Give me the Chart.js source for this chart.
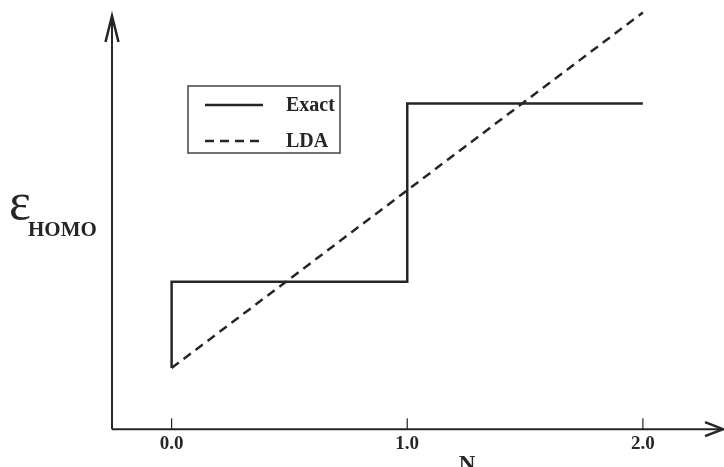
<!DOCTYPE html>
<html>
<head>
<meta charset="utf-8">
<script src="https://cdn.jsdelivr.net/npm/chart.js@4/dist/chart.umd.min.js"></script>
<style>
  html, body { margin: 0; padding: 0; background: #fff; }
  #wrap { width: 724px; height: 467px; position: relative; }
</style>
</head>
<body>
<div id="wrap"><canvas id="c"></canvas></div>
<script>
// values (y in arbitrary energy units, 0..10)
const exactN = [0, 0, 1, 1, 2];
const exactE = [1.46, 3.52, 3.52, 7.77, 7.77];
const ldaN = [0, 2];
const ldaE = [1.46, 9.94];
const xTicks = [0, 1, 2];
const seriesLabels = ['Exact', 'LDA'];

const ink = '#262626';
const serif = '"Liberation Serif", "DejaVu Serif", serif';

const toPts = (xs, ys) => xs.map((x, i) => ({ x: x, y: ys[i] }));

const axesPlugin = {
    id: 'axesPlugin',
    afterDraw(chart) {
        const ctx = chart.ctx;
        const a = chart.chartArea;
        const xs = chart.scales.x;
        const x0 = a.left, y0 = a.bottom;
        ctx.save();
        ctx.strokeStyle = ink;
        ctx.fillStyle = ink;
        ctx.lineWidth = 2;
        ctx.lineCap = 'butt';

        // axis lines
        ctx.beginPath();
        ctx.moveTo(x0, y0); ctx.lineTo(x0, 16);
        ctx.moveTo(x0, y0); ctx.lineTo(a.right, y0);
        ctx.stroke();

        // arrow heads
        ctx.lineWidth = 2.5;
        ctx.beginPath();
        ctx.moveTo(x0 - 6.5, 42); ctx.lineTo(x0, 16); ctx.lineTo(x0 + 6.5, 42);
        ctx.moveTo(a.right - 18, y0 - 7); ctx.lineTo(a.right, y0); ctx.lineTo(a.right - 18, y0 + 7);
        ctx.stroke();

        // inward tick marks
        ctx.lineWidth = 1.2;
        ctx.beginPath();
        xs.ticks.forEach(t => {
            const px = xs.getPixelForValue(t.value);
            ctx.moveTo(px, y0); ctx.lineTo(px, y0 - 11);
        });
        ctx.stroke();

        // axis titles
        ctx.textBaseline = 'alphabetic';
        ctx.textAlign = 'left';
        ctx.font = '52px ' + serif;
        ctx.fillText('ε', 9, 219);
        ctx.font = 'bold 21px ' + serif;
        ctx.fillText('HOMO', 28, 236);
        ctx.font = 'bold 23px ' + serif;
        ctx.textAlign = 'center';
        ctx.fillText('N', 467, 471);

        // boxed legend
        ctx.lineWidth = 1.5;
        ctx.strokeStyle = '#444';
        ctx.strokeRect(188, 86, 152, 67);
        ctx.textAlign = 'left';
        ctx.textBaseline = 'middle';
        ctx.font = 'bold 20px ' + serif;
        chart.data.datasets.forEach((ds, i) => {
            const ly = 105 + i * 36;
            ctx.strokeStyle = ds.borderColor;
            ctx.lineWidth = ds.borderWidth;
            ctx.setLineDash(ds.borderDash || []);
            ctx.beginPath();
            ctx.moveTo(205, ly); ctx.lineTo(263, ly);
            ctx.stroke();
            ctx.setLineDash([]);
            ctx.fillText(ds.label, 286, ly + 1);
        });
        ctx.restore();
    }
};

new Chart(document.getElementById('c'), {
    type: 'scatter',
    data: {
        datasets: [
            {
                label: seriesLabels[0],
                data: toPts(exactN, exactE),
                showLine: true,
                borderColor: ink,
                borderWidth: 2.5,
                pointRadius: 0,
                fill: false
            },
            {
                label: seriesLabels[1],
                data: toPts(ldaN, ldaE),
                showLine: true,
                borderColor: ink,
                borderWidth: 2.5,
                borderDash: [9, 6],
                pointRadius: 0,
                fill: false
            }
        ]
    },
    options: {
        responsive: true,
        maintainAspectRatio: false,
        animation: false,
        layout: { padding: { left: 112, right: 1, top: 10, bottom: 9 } },
        plugins: { legend: { display: false }, tooltip: { enabled: false } },
        scales: {
            x: {
                type: 'linear',
                min: -0.253,
                max: 2.34,
                afterBuildTicks: s => { s.ticks = xTicks.map(v => ({ value: v })); },
                grid: { display: false, drawTicks: false },
                border: { display: false },
                ticks: {
                    padding: 3,
                    color: ink,
                    font: { family: serif, size: 19, weight: 'bold' },
                    callback: v => Number(v).toFixed(1)
                }
            },
            y: { display: false, min: 0, max: 10 }
        }
    },
    plugins: [axesPlugin]
});
</script>
</body>
</html>
